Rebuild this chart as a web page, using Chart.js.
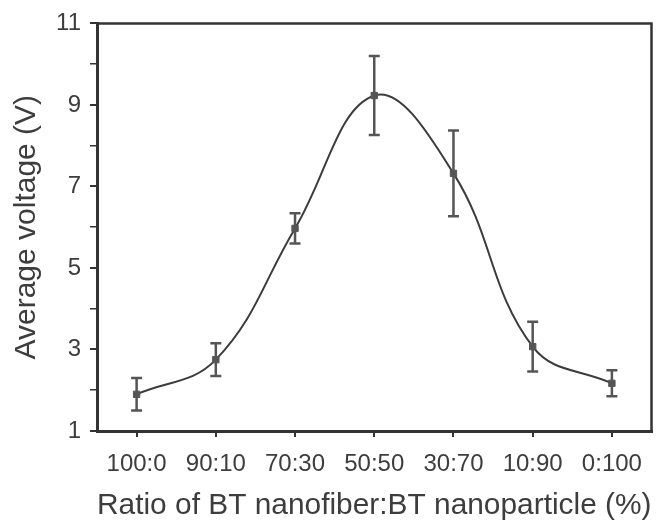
<!DOCTYPE html>
<html>
<head>
<meta charset="utf-8">
<script src="https://cdn.jsdelivr.net/npm/chart.js@4.4.0/dist/chart.umd.min.js"></script>
<style>
  html, body { margin: 0; padding: 0; background: #fff; }
  #wrap { width: 657px; height: 526px; position: relative; }
</style>
</head>
<body>
<div id="wrap"><canvas id="voltage-chart"></canvas></div>
<script>
const ratios = ['100:0', '90:10', '70:30', '50:50', '30:70', '10:90', '0:100'];
const voltage = [1.9, 2.75, 5.97, 9.23, 7.32, 3.07, 2.17];
const voltageErr = [0.4, 0.4, 0.37, 0.97, 1.05, 0.61, 0.32];
const yMin = 1;
const yMax = 11;

const ink = '#3d3d3d';
const font = 'Liberation Sans, Arial, sans-serif';

// error bars, drawn under the curve and markers
const errorBars = {
  id: 'errorBars',
  beforeDatasetsDraw(chart) {
    const { ctx, scales: { x, y } } = chart;
    ctx.save();
    ctx.strokeStyle = '#555';
    ctx.lineWidth = 2.5;
    voltage.forEach((v, i) => {
      const px = x.getPixelForValue(i);
      const top = y.getPixelForValue(v + voltageErr[i]);
      const bot = y.getPixelForValue(v - voltageErr[i]);
      ctx.beginPath();
      ctx.moveTo(px, top);
      ctx.lineTo(px, bot);
      ctx.moveTo(px - 5.5, top);
      ctx.lineTo(px + 5.5, top);
      ctx.moveTo(px - 5.5, bot);
      ctx.lineTo(px + 5.5, bot);
      ctx.stroke();
    });
    ctx.restore();
  }
};

// top and right frame lines
const frame = {
  id: 'frame',
  afterDraw(chart) {
    const { ctx, chartArea: a } = chart;
    ctx.save();
    ctx.strokeStyle = '#333';
    ctx.lineWidth = 2.5;
    ctx.beginPath();
    ctx.moveTo(a.left, a.top);
    ctx.lineTo(a.right, a.top);
    ctx.lineTo(a.right, a.bottom);
    ctx.stroke();
    ctx.restore();
  }
};

new Chart(document.querySelector('#voltage-chart'), {
  type: 'line',
  data: {
    labels: ratios,
    datasets: [{
      label: 'Average voltage',
      data: voltage,
      borderColor: '#3c3c3c',
      borderWidth: 2,
      tension: 0.4,
      pointStyle: 'rect',
      pointRadius: 4.5,
      pointBackgroundColor: '#555',
      pointBorderColor: '#555',
      pointBorderWidth: 1
    }]
  },
  options: {
    responsive: true,
    maintainAspectRatio: false,
    animation: false,
    layout: { padding: { left: 0, right: 2, top: 16, bottom: 0 } },
    plugins: {
      legend: { display: false },
      tooltip: { enabled: false }
    },
    scales: {
      x: {
        offset: true,
        afterFit: (scale) => { scale.height = 95; },
        grid: { drawOnChartArea: false, drawTicks: true, tickLength: 6, color: '#333', lineWidth: 2 },
        border: { display: true, color: '#333', width: 3 },
        ticks: { color: ink, font: { family: font, size: 24 }, padding: 13, maxRotation: 0, autoSkip: false },
        title: {
          display: true,
          text: 'Ratio of BT nanofiber:BT nanoparticle (%)',
          color: ink,
          font: { family: font, size: 30 },
          padding: { top: 0, bottom: 2 }
        }
      },
      y: {
        min: yMin,
        max: yMax,
        afterFit: (scale) => { scale.width = 97; },
        grid: {
          drawOnChartArea: false,
          drawTicks: true,
          tickLength: 7,
          color: '#333',
          lineWidth: (c) => (c.tick && c.tick.value % 2 === 1 ? 2 : 1.5)
        },
        border: { display: true, color: '#333', width: 3 },
        ticks: {
          stepSize: 1,
          color: ink,
          font: { family: font, size: 24 },
          padding: 9,
          callback: (v) => (v % 2 === 1 ? v : '')
        },
        title: {
          display: true,
          text: 'Average voltage (V)',
          color: ink,
          font: { family: font, size: 30 },
          padding: { top: 9, bottom: 0 }
        }
      }
    }
  },
  plugins: [errorBars, frame]
});
</script>
</body>
</html>
